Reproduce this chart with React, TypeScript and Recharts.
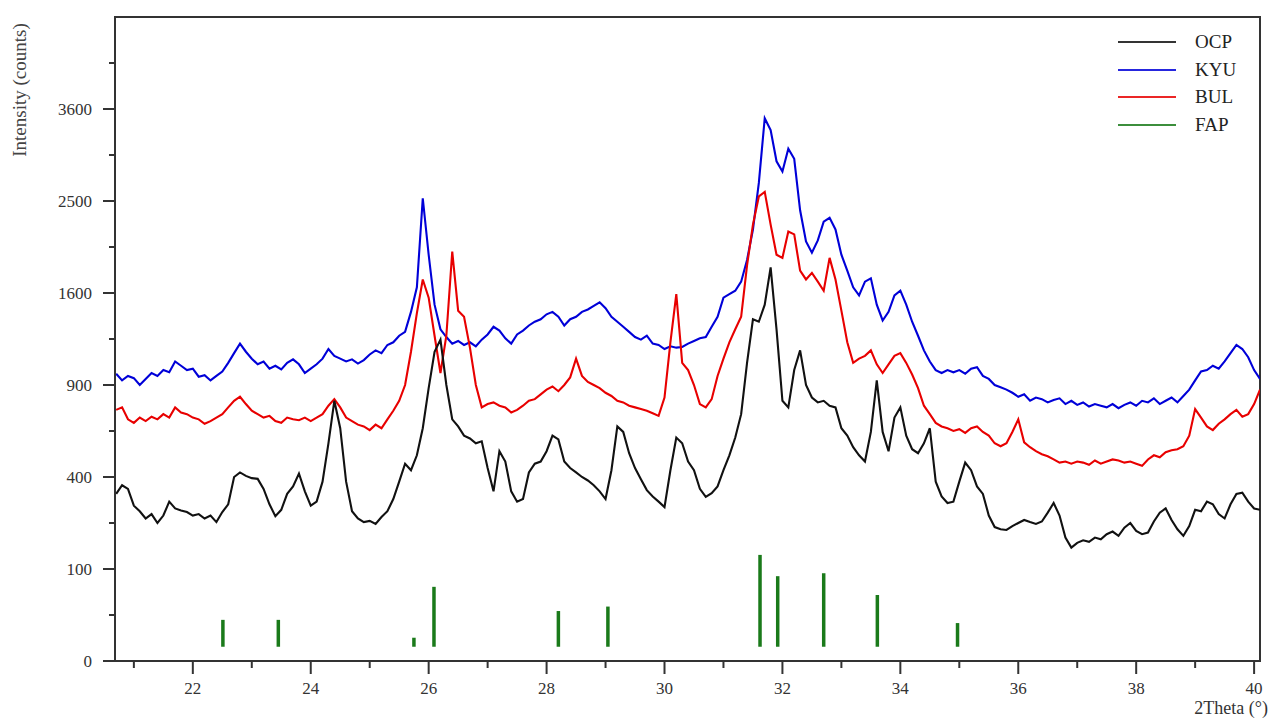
import React from 'react';
import { ComposedChart, Line, XAxis, YAxis, ReferenceLine, ReferenceArea } from 'recharts';

// 2Theta sampling (degrees)
const twoTheta = [
  20.7, 20.8, 20.9, 21.0, 21.1, 21.2, 21.3, 21.4, 21.5, 21.6,
  21.7, 21.8, 21.9, 22.0, 22.1, 22.2, 22.3, 22.4, 22.5, 22.6,
  22.7, 22.8, 22.9, 23.0, 23.1, 23.2, 23.3, 23.4, 23.5, 23.6,
  23.7, 23.8, 23.9, 24.0, 24.1, 24.2, 24.3, 24.4, 24.5, 24.6,
  24.7, 24.8, 24.9, 25.0, 25.1, 25.2, 25.3, 25.4, 25.5, 25.6,
  25.7, 25.8, 25.9, 26.0, 26.1, 26.2, 26.3, 26.4, 26.5, 26.6,
  26.7, 26.8, 26.9, 27.0, 27.1, 27.2, 27.3, 27.4, 27.5, 27.6,
  27.7, 27.8, 27.9, 28.0, 28.1, 28.2, 28.3, 28.4, 28.5, 28.6,
  28.7, 28.8, 28.9, 29.0, 29.1, 29.2, 29.3, 29.4, 29.5, 29.6,
  29.7, 29.8, 29.9, 30.0, 30.1, 30.2, 30.3, 30.4, 30.5, 30.6,
  30.7, 30.8, 30.9, 31.0, 31.1, 31.2, 31.3, 31.4, 31.5, 31.6,
  31.7, 31.8, 31.9, 32.0, 32.1, 32.2, 32.3, 32.4, 32.5, 32.6,
  32.7, 32.8, 32.9, 33.0, 33.1, 33.2, 33.3, 33.4, 33.5, 33.6,
  33.7, 33.8, 33.9, 34.0, 34.1, 34.2, 34.3, 34.4, 34.5, 34.6,
  34.7, 34.8, 34.9, 35.0, 35.1, 35.2, 35.3, 35.4, 35.5, 35.6,
  35.7, 35.8, 35.9, 36.0, 36.1, 36.2, 36.3, 36.4, 36.5, 36.6,
  36.7, 36.8, 36.9, 37.0, 37.1, 37.2, 37.3, 37.4, 37.5, 37.6,
  37.7, 37.8, 37.9, 38.0, 38.1, 38.2, 38.3, 38.4, 38.5, 38.6,
  38.7, 38.8, 38.9, 39.0, 39.1, 39.2, 39.3, 39.4, 39.5, 39.6,
  39.7, 39.8, 39.9, 40.0, 40.1,
];

const ocp = [
  330, 365, 350, 285, 265, 240, 255, 225, 250, 300,
  275, 268, 262, 250, 255, 240, 250, 228, 262, 290,
  400, 420, 405, 395, 392, 350, 290, 248, 270, 330,
  360, 415, 340, 285, 300, 380, 560, 800, 640, 380,
  265, 240, 228, 232, 222, 245, 265, 310, 380, 460,
  430, 500, 640, 880, 1130, 1220, 900, 690, 650, 600,
  585, 560, 570, 440, 340, 520, 470, 340, 300, 310,
  420, 460, 470, 520, 600, 580, 470, 440, 420, 400,
  385, 365, 340, 310, 430, 650, 620, 510, 440, 390,
  345, 320, 300, 280, 430, 590, 560, 470, 430, 350,
  318, 333, 360, 430, 500, 590, 720, 1050, 1380, 1360,
  1500, 1830, 1300, 800, 760, 1000, 1140, 900, 820, 790,
  800, 770, 760, 640, 600, 540, 500, 470, 620, 930,
  620, 520, 700, 760, 600, 530, 510, 560, 640, 380,
  320, 295, 300, 380, 465, 430, 360, 330, 250, 212,
  205, 203, 215, 225, 235, 228, 222, 230, 260, 295,
  250, 180, 152, 165, 172, 168, 180, 175, 190, 198,
  185, 210, 225, 200, 190, 195, 230, 260, 275, 235,
  205, 185, 215, 270, 265, 300, 290, 255, 240, 290,
  330, 335, 300, 275, 270,
];

const kyu = [
  975, 930, 960, 945, 900, 940, 980, 960, 1000, 985,
  1060, 1030, 1000, 1010, 955, 965, 930, 960, 990, 1050,
  1120, 1190, 1130, 1080, 1040, 1060, 1010, 1030, 1005, 1050,
  1075, 1040, 980, 1010, 1040, 1080, 1150, 1100, 1080, 1060,
  1075, 1045, 1070, 1110, 1140, 1120, 1180, 1200, 1250, 1280,
  1440, 1650, 2530, 1950, 1500, 1300, 1240, 1190, 1210, 1180,
  1200, 1170, 1220, 1260, 1320, 1290, 1230, 1190, 1260, 1290,
  1330, 1360, 1380, 1420, 1440, 1400, 1330, 1380, 1400, 1440,
  1460, 1490, 1520, 1470, 1400, 1360, 1320, 1280, 1240, 1220,
  1250, 1190, 1180, 1150, 1170, 1160, 1165, 1190, 1210, 1230,
  1240, 1320, 1400, 1560, 1590, 1620, 1700, 1900, 2200, 2700,
  3480, 3330, 2950, 2830, 3100, 2980, 2400, 2080, 1970, 2090,
  2280, 2320, 2200, 1950, 1800, 1650, 1580, 1700, 1730, 1500,
  1370, 1440, 1580, 1620, 1500, 1360, 1250, 1140, 1060, 1000,
  980, 1000, 985, 1000, 975, 1010, 1020, 960, 940, 900,
  885, 870, 850, 825, 840, 800, 820, 810, 790, 805,
  815, 780, 800, 775, 790, 765, 780, 770, 760, 780,
  755, 775, 790, 770, 800, 790, 815, 780, 800, 820,
  790, 830, 870, 930, 990, 1000, 1030, 1010, 1060, 1120,
  1180, 1150, 1090, 1000, 940,
];

const bul = [
  745, 760, 690, 670, 700, 680, 705, 690, 720, 700,
  760, 730, 720, 700, 690, 665, 680, 700, 720, 760,
  800, 825, 780, 740, 720, 700, 710, 680, 670, 700,
  690, 685, 700, 680, 700, 720, 770, 810, 760, 700,
  680, 660, 650, 630, 660, 640, 690, 740, 800, 900,
  1130, 1430, 1720, 1560, 1250, 980, 1250, 1980, 1450, 1400,
  1160, 900, 760, 780, 790, 770, 760, 730, 745, 770,
  800, 810, 840, 870, 890, 860, 900, 950, 1080, 960,
  920, 900, 880, 850, 830, 800, 790, 770, 760, 750,
  740, 725, 710, 820, 1200, 1590, 1050, 1000, 900, 780,
  760, 810, 960, 1080, 1200, 1300, 1400, 1850, 2250, 2550,
  2600, 2250, 1950, 1920, 2180, 2150, 1800, 1720, 1780, 1700,
  1620, 1920, 1720, 1450, 1200, 1050, 1080, 1100, 1140, 1040,
  980, 1040, 1100, 1120, 1050, 970, 880, 770, 720, 670,
  650, 640, 625, 635, 615, 640, 650, 620, 600, 560,
  545, 560, 620, 690, 565, 540, 520, 505, 495, 480,
  465, 470, 460, 470, 465, 455, 475, 460, 470, 480,
  475, 465, 470, 460, 450, 480, 500, 490, 515, 525,
  530, 545, 600, 750, 700, 650, 630, 665, 690, 720,
  745, 705, 720, 780, 870,
];

// FAP reference sticks
const fapPos = [22.51, 23.45, 25.75, 26.09, 28.2, 29.04, 31.62, 31.92, 32.7, 33.61, 34.97];
const fapInt = [20, 20, 6.4, 65, 29.5, 35, 133, 85, 91, 51.5, 17];
const fapBase = 2.4;

const yMajor = [0, 100, 400, 900, 1600, 2500, 3600];
const yTicks = [0, 25, 100, 225, 400, 625, 900, 1225, 1600, 2025, 2500, 3025, 3600, 4225];
const xTicks = [21, 22, 23, 24, 25, 26, 27, 28, 29, 30, 31, 32, 33, 34, 35, 36, 37, 38, 39, 40];
const xDomain = [20.68, 40.1];
const yDomain = [0, 4900];

const legendNames = ['OCP', 'KYU', 'BUL', 'FAP'];
const legendColors = ['#111111', '#0000d8', '#e80000', '#1a7a1a'];

const FONT = '"Liberation Serif", "Times New Roman", serif';
const AXIS = '#333333';

const rows = twoTheta.map((x, i) => ({ x, ocp: ocp[i], kyu: kyu[i], bul: bul[i] }));

const YTick = ({ x, y, payload }: any) => {
  const major = yMajor.includes(payload.value);
  return (
    <g>
      <line x1={x - (major ? 12 : 6)} x2={x} y1={y} y2={y} stroke={AXIS} strokeWidth={2} />
      {major && (
        <text x={x - 23} y={y} dy="0.35em" textAnchor="end" fontFamily={FONT} fontSize={17} fill="#333">
          {payload.value}
        </text>
      )}
    </g>
  );
};

const XTick = ({ x, y, payload }: any) => {
  const major = payload.value % 2 === 0;
  return (
    <g>
      <line x1={x} x2={x} y1={y} y2={y + (major ? 13 : 7)} stroke={AXIS} strokeWidth={2} />
      {major && (
        <text x={x} y={y + 27} dy="0.35em" textAnchor="middle" fontFamily={FONT} fontSize={17} fill="#333">
          {payload.value}
        </text>
      )}
    </g>
  );
};

export default function App() {
  return (
    <div style={{ position: 'absolute', left: 0, top: 0, width: 1269, height: 720, background: '#fff' }}>
      <ComposedChart
        width={1269}
        height={720}
        data={rows}
        margin={{ top: 17, right: 9, bottom: 9, left: 0 }}
      >
        <XAxis
          dataKey="x"
          type="number"
          domain={xDomain}
          allowDataOverflow
          ticks={xTicks}
          interval={0}
          height={50}
          tickSize={0}
          tickMargin={0}
          tick={<XTick />}
          axisLine={{ stroke: AXIS, strokeWidth: 2 }}
        />
        <YAxis
          type="number"
          scale="sqrt"
          domain={yDomain}
          allowDataOverflow
          ticks={yTicks}
          interval={0}
          width={115}
          tickSize={0}
          tickMargin={0}
          tick={<YTick />}
          axisLine={{ stroke: AXIS, strokeWidth: 2 }}
        />
        <ReferenceArea
          x1={xDomain[0]}
          x2={xDomain[1]}
          y1={yDomain[0]}
          y2={yDomain[1]}
          fill="none"
          fillOpacity={0}
          stroke={AXIS}
          strokeWidth={2}
          ifOverflow="visible"
        />
        <Line dataKey="kyu" type="linear" stroke={legendColors[1]} strokeWidth={2.1} dot={false} isAnimationActive={false} />
        <Line dataKey="bul" type="linear" stroke={legendColors[2]} strokeWidth={2.1} dot={false} isAnimationActive={false} />
        <Line dataKey="ocp" type="linear" stroke={legendColors[0]} strokeWidth={2.1} dot={false} isAnimationActive={false} />
        {fapPos.map((p, i) => (
          <ReferenceLine
            key={`fap-${i}`}
            segment={[{ x: p, y: fapBase }, { x: p, y: fapInt[i] }]}
            stroke={legendColors[3]}
            strokeWidth={3.5}
            ifOverflow="visible"
          />
        ))}
      </ComposedChart>

      {/* legend */}
      {legendNames.map((name, i) => (
        <div
          key={name}
          style={{
            position: 'absolute',
            left: 1118,
            top: 42 + i * 27.7 - 12,
            height: 24,
            display: 'flex',
            alignItems: 'center',
            fontFamily: FONT,
            fontSize: 19,
            color: '#222',
          }}
        >
          <div style={{ width: 58, height: 0, borderTop: `2px solid ${legendColors[i]}`, opacity: 0.85 }} />
          <span style={{ marginLeft: 19 }}>{name}</span>
        </div>
      ))}

      <div
        style={{
          position: 'absolute',
          left: 20,
          top: 90,
          transform: 'translate(-50%, -50%) rotate(-90deg)',
          whiteSpace: 'nowrap',
          fontFamily: FONT,
          fontSize: 19,
          color: '#444',
        }}
      >
        Intensity (counts)
      </div>
      <div
        style={{
          position: 'absolute',
          right: 1,
          top: 698,
          whiteSpace: 'nowrap',
          fontFamily: FONT,
          fontSize: 18,
          lineHeight: '20px',
          color: '#333',
        }}
      >
        2Theta (°)
      </div>
    </div>
  );
}
